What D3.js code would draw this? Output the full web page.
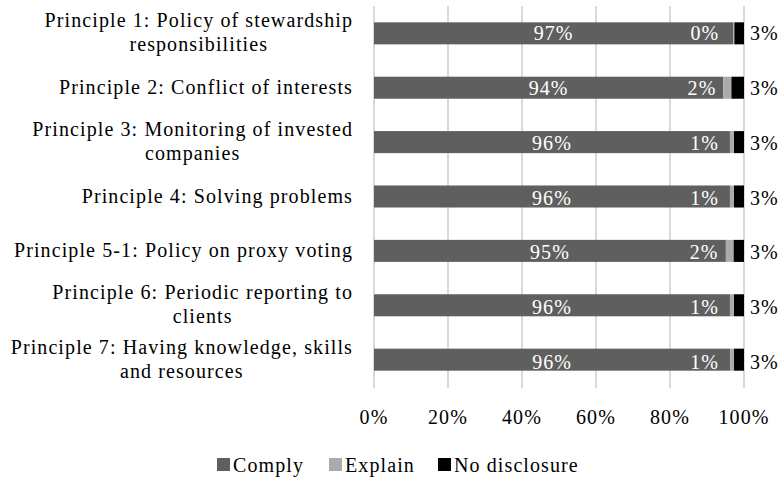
<!DOCTYPE html>
<html>
<head>
<meta charset="utf-8">
<script src="https://cdn.jsdelivr.net/npm/d3@7"></script>
<style>
  body { margin: 0; background: #fff; }
</style>
</head>
<body>
<div id="chart"></div>
<script>
// chart data (shares in %)
const categories = [
    ["Principle 1: Policy of stewardship", "responsibilities"],
    ["Principle 2: Conflict of interests"],
    ["Principle 3: Monitoring of invested", "companies"],
    ["Principle 4: Solving problems"],
    ["Principle 5-1: Policy on proxy voting"],
    ["Principle 6: Periodic reporting to", "clients"],
    ["Principle 7: Having knowledge, skills", "and resources"]
];
const comply = [97.1, 94.4, 96.2, 96.2, 95.1, 96.2, 96.3];
const explain = [0.3, 2.2, 1.1, 1.1, 2.1, 1.1, 1.0];
const noDisclosure = [2.6, 3.4, 2.7, 2.7, 2.8, 2.7, 2.7];
const seriesNames = ["Comply", "Explain", "No disclosure"];
const xTicks = [0, 20, 40, 60, 80, 100];

const width = 784, height = 481;
const colors = ["#5f5f5f", "#ababab", "#000000"];
const fontFamily = "'Liberation Serif', 'DejaVu Serif', serif";

let svg = d3.select("#chart")
    .append("svg")
    .attr("width", width)
    .attr("height", height)
    .attr("font-family", fontFamily)
    .style("font-family", fontFamily)
    .style("letter-spacing", "1.1px");

// scales
let x = d3.scaleLinear().domain([0, 100]).range([374, 744]);
let y = d3.scaleBand()
    .domain(d3.range(categories.length))
    .range([6, 387])
    .paddingInner(0.595)
    .paddingOuter(0.3);

// gridlines
svg.append("g")
    .selectAll("line")
    .data(xTicks)
    .enter()
    .append("line")
    .attr("x1", d => x(d))
    .attr("x2", d => x(d))
    .attr("y1", 6)
    .attr("y2", 388)
    .attr("stroke", "#d9d9d9")
    .attr("stroke-width", 2);

// build stacked rows
let rows = categories.map((c, i) => ({ i: i, values: [comply[i], explain[i], noDisclosure[i]] }));
let stack = d3.stack().keys([0, 1, 2]).value((d, k) => d.values[k]);
let layers = stack(rows);

svg.append("g")
    .selectAll("g")
    .data(layers)
    .enter()
    .append("g")
    .attr("fill", (d, k) => colors[k])
    .selectAll("rect")
    .data(d => d)
    .enter()
    .append("rect")
    .attr("x", d => x(d[0]))
    .attr("width", d => x(d[1]) - x(d[0]))
    .attr("y", d => y(d.data.i))
    .attr("height", y.bandwidth());

// value labels
let fs = 20;
let labels = svg.append("g").style("font-size", fs + "px");
rows.forEach((r, i) => {
    let cy = y(i) + y.bandwidth() / 2 + 7 + i * 0.4;
    // comply: white, centred in segment
    labels.append("text")
        .attr("x", x(comply[i] / 2))
        .attr("y", cy)
        .attr("text-anchor", "middle")
        .attr("fill", "#fff")
        .text(Math.round(comply[i]) + "%");
    // explain: white, right aligned before the black segment
    labels.append("text")
        .attr("x", x(comply[i] + explain[i]) - 15)
        .attr("y", cy)
        .attr("text-anchor", "end")
        .attr("fill", "#fff")
        .text(Math.round(explain[i]) + "%");
    // no disclosure: black, outside the bar
    labels.append("text")
        .attr("x", x(100) + 6)
        .attr("y", cy)
        .attr("fill", "#000")
        .text(Math.round(noDisclosure[i]) + "%");
});

// category labels (multi-line centred, block right aligned)
let catG = svg.append("g").style("font-size", fs + "px").attr("fill", "#000");
categories.forEach((lines, i) => {
    let cy = y(i) + y.bandwidth() / 2;
    let t = catG.append("text").attr("text-anchor", "middle");
    let n = lines.length;
    lines.forEach((ln, j) => {
        t.append("tspan")
            .attr("x", 0)
            .attr("y", cy + (j - (n - 1) / 2) * 24 + 6)
            .text(ln);
    });
    let w = t.node().getBBox().width;
    t.selectAll("tspan").attr("x", 353 - w / 2);
});

// x axis labels
svg.append("g")
    .style("font-size", fs + "px")
    .selectAll("text")
    .data(xTicks)
    .enter()
    .append("text")
    .attr("x", d => x(d))
    .attr("y", 424)
    .attr("text-anchor", "middle")
    .text(d => d + "%");

// legend
let legendX = [217, 329, 438];
let legend = svg.append("g").style("font-size", fs + "px");
seriesNames.forEach((s, k) => {
    legend.append("rect")
        .attr("x", legendX[k])
        .attr("y", 458)
        .attr("width", 13)
        .attr("height", 13)
        .attr("fill", colors[k]);
    legend.append("text")
        .attr("x", legendX[k] + 16)
        .attr("y", 472)
        .text(s);
});
</script>
</body>
</html>
